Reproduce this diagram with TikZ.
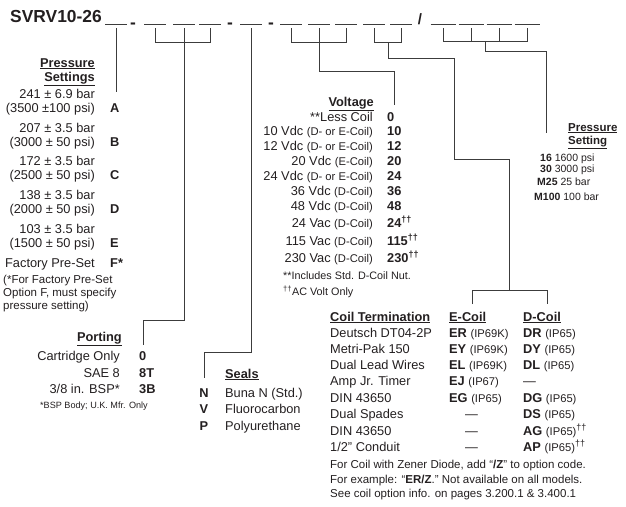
\documentclass[tikz,border=0pt]{standalone}
\usepackage{fontspec}
\setmainfont{Liberation Sans}
\usetikzlibrary{positioning}
\definecolor{InkBlack}{HTML}{231F20}
\definecolor{LeaderGrey}{HTML}{3C3C3C}
\newcommand{\titlesz}{\fontsize{17.4}{20}\selectfont}
\newcommand{\mainsz}{\fontsize{12.8}{15}\selectfont}
\newcommand{\subsz}{\fontsize{11.2}{13}\selectfont}
\newcommand{\notesz}{\fontsize{11.5}{13}\selectfont}
\newcommand{\tinysz}{\fontsize{9.1}{11}\selectfont}
\newcommand{\acmark}{\textsuperscript{††}}
\tikzset{
    % Separator between code groups
    sepmark/.style={
        inner sep=0pt,
        anchor=base,
        font=\titlesz\bfseries,
        text=InkBlack
    },
    % Description right of its code
    desclabel/.style={
        inner sep=0pt,
        anchor=base east,
        font=\mainsz,
        text=InkBlack
    },
    % Description left of its code
    optlabel/.style={
        inner sep=0pt,
        anchor=base west,
        font=\mainsz,
        text=InkBlack
    },
    % Option code
    codelabel/.style={
        inner sep=0pt,
        anchor=base west,
        font=\mainsz\bfseries,
        text=InkBlack
    },
    % Underlined group heading
    headlabel/.style={
        inner sep=0pt,
        font=\mainsz\bfseries,
        text=InkBlack
    },
    % Footnotes
    notelabel/.style={
        inner sep=0pt,
        anchor=base west,
        font=\notesz,
        text=InkBlack
    },
    % Blanks of the model code
    blankline/.style={
        draw=LeaderGrey,
        line width=0.9pt
    },
    % Leader lines
    leaderline/.style={
        draw=LeaderGrey,
        line width=0.9pt
    }
}

\begin{document}
\begin{tikzpicture}[x=1pt, y=-1pt]
    \useasboundingbox (0,0) rectangle (626,506);

    % Model code
    \node[inner sep=0pt, anchor=base west, font=\titlesz\bfseries, text=InkBlack] (model) at (10,23) {SVRV10-26};
    \node[sepmark] (sep1) at (133,28) {-};
    \node[sepmark] (sep2) at (230,28) {-};
    \node[sepmark] (sep3) at (271,28) {-};
    \node[sepmark, font=\fontsize{15}{18}\selectfont\bfseries] (slash) at (420,24) {/};
    \foreach \c [count=\i] in {116,155,184,210,251,291,319,346,374,401} {
        \coordinate (b\i) at (\c,24);
        \draw[blankline] ([xshift=-11pt]b\i) -- ([xshift=11pt]b\i);
    }
    \foreach \c [count=\i from 11] in {443,471,499,527} {
        \coordinate (b\i) at (\c,24);
        \draw[blankline] ([xshift=-12.5pt]b\i) -- ([xshift=12.5pt]b\i);
    }

    % Brackets and leaders
    \draw[leaderline] ([yshift=-4pt]b1) -- (116,92);
    \draw[leaderline] ([yshift=-4pt]b2) -- ([yshift=-18pt]b2) -- ([yshift=-18pt]b4) -- ([yshift=-4pt]b4);
    \draw[leaderline] ([yshift=-4pt]b3) -- (184,320) -- (143,320) -- (143,345);
    \draw[leaderline] ([yshift=-4pt]b5) -- (251,352) -- (204,352) -- (204,378);
    \draw[leaderline] ([yshift=-4pt]b6) -- ([yshift=-18pt]b6) -- ([yshift=-18pt]b8) -- ([yshift=-4pt]b8);
    \draw[leaderline] ([yshift=-4pt]b7) -- (319,71) -- (394,71) -- (394,105);
    \draw[leaderline] ([yshift=-4pt]b9) -- ([yshift=-18pt]b9) -- ([yshift=-18pt]b10) -- ([yshift=-4pt]b10);
    \draw[leaderline] (388,42) -- (388,58) -- (454,58) -- (454,159) -- (509,159) -- (509,290);
    \draw[leaderline] (472,304) -- (472,290) -- (547,290) -- (547,304);
    \draw[leaderline] ([yshift=-4pt]b11) -- ([yshift=-17pt]b11) -- ([yshift=-17pt]b14) -- ([yshift=-4pt]b14);
    \draw[leaderline] ([yshift=-4pt]b12) -- ([yshift=-17pt]b12);
    \draw[leaderline] ([yshift=-4pt]b13) -- ([yshift=-17pt]b13);
    \draw[leaderline] (485,41) -- (485,51) -- (546,51) -- (546,133);

    % Pressure settings
    \node[headlabel, anchor=base east] (pshead1) at (95,67) {\underline{Pressure}};
    \node[headlabel, anchor=base east] (pshead2) at (95,81) {\underline{Settings}};
    \foreach \bar/\psi/\code [count=\i] in {241 ± 6.9 bar/(3500 ±100 psi)/A, 207 ± 3.5 bar/(3000 ± 50 psi)/B, 172 ± 3.5 bar/(2500 ± 50 psi)/C, 138 ± 3.5 bar/(2000 ± 50 psi)/D, 103 ± 3.5 bar/(1500 ± 50 psi)/E} {
        \node[desclabel] (psbar\i) at (95,{65+33.6*\i}) {\bar};
        \node[desclabel] (pspsi\i) at (95,{79+33.6*\i}) {\psi};
        \node[codelabel] (pscode\i) at (110,{79+33.6*\i}) {\code};
    }
    \node[desclabel] (psbar6) at (95,267) {Factory Pre-Set};
    \node[codelabel] (pscode6) at (110,267) {F*};
    \node[notelabel] (psnote1) at (3,283) {(*For Factory Pre-Set};
    \node[notelabel] (psnote2) at (3,296) {Option F, must specify};
    \node[notelabel] (psnote3) at (3,309) {pressure setting)};

    % Porting
    \node[headlabel, anchor=base east] (porthead) at (122,341) {\underline{Porting}};
    \foreach \y/\desc/\code [count=\i] in {360/{Cartridge Only}/0, 377/{SAE 8}/8T, 393/{3/8 in. BSP*}/3B} {
        \node[desclabel] (portdesc\i) at (120,\y) {\desc};
        \node[codelabel] (portcode\i) at (139,\y) {\code};
    }
    \node[notelabel, font=\tinysz] (portnote) at (40,408) {*BSP Body; U.K. Mfr. Only};

    % Seals
    \node[headlabel, anchor=base west] (sealhead) at (225,378) {\underline{Seals}};
    \foreach \y/\code/\desc [count=\i] in {397/N/Buna N (Std.), 413/V/Fluorocarbon, 430/P/Polyurethane} {
        \node[codelabel, anchor=base] (sealcode\i) at (204,\y) {\code};
        \node[optlabel] (sealdesc\i) at (225,\y) {\desc};
    }

    % Voltage
    \node[headlabel, anchor=base east] (volthead) at (374,106) {\underline{Voltage}};
    \foreach \y/\desc/\code [count=\i] in {121/{**Less Coil}/0, 135/{10 Vdc {\subsz(D- or E-Coil)}}/10, 150/{12 Vdc {\subsz(D- or E-Coil)}}/12, 165/{20 Vdc {\subsz(E-Coil)}}/20, 180/{24 Vdc {\subsz(D- or E-Coil)}}/24, 195/{36 Vdc {\subsz(D-Coil)}}/36, 210/{48 Vdc {\subsz(D-Coil)}}/48, 227/{24 Vac {\subsz(D-Coil)}}/{24\acmark}, 245/{115 Vac {\subsz(D-Coil)}}/{115\acmark}, 262/{230 Vac {\subsz(D-Coil)}}/{230\acmark}} {
        \node[desclabel] (voltdesc\i) at (373,\y) {\desc};
        \node[codelabel] (voltcode\i) at (387,\y) {\code};
    }
    \node[notelabel, font=\fontsize{10.8}{13}\selectfont] (voltnote1) at (283,279) {**Includes Std. D-Coil Nut.};
    \node[notelabel, font=\fontsize{10.8}{13}\selectfont] (voltnote2) at (283,295) {\acmark AC Volt Only};

    % Pressure setting
    \node[headlabel, anchor=base west, font=\fontsize{11.5}{13}\selectfont\bfseries] (sethead1) at (568,131) {\underline{Pressure}};
    \node[headlabel, anchor=base west, font=\fontsize{11.5}{13}\selectfont\bfseries] (sethead2) at (568,144) {\underline{Setting}};
    \foreach \x/\y/\code/\desc [count=\i] in {540/161/16/1600 psi, 540/172/30/3000 psi, 537/185/M25/25 bar, 534/200/M100/100 bar} {
        \node[optlabel, font=\fontsize{10.5}{12}\selectfont] (setrow\i) at (\x,\y) {\textbf{\code}\ \desc};
    }

    % Coil termination
    \node[headlabel, anchor=base west] (coilhead) at (330,321) {\underline{Coil Termination}};
    \node[headlabel, anchor=base west] (ecoilhead) at (449,321) {\underline{E-Coil}};
    \node[headlabel, anchor=base west] (dcoilhead) at (523,321) {\underline{D-Coil}};
    \foreach \y/\term/\ecoil/\dcoil [count=\i] in {
        337/{Deutsch DT04-2P}/{\textbf{ER} {\subsz(IP69K)}}/{\textbf{DR} {\subsz(IP65)}},
        353/{Metri-Pak 150}/{\textbf{EY} {\subsz(IP69K)}}/{\textbf{DY} {\subsz(IP65)}},
        369/{Dual Lead Wires}/{\textbf{EL} {\subsz(IP69K)}}/{\textbf{DL} {\subsz(IP65)}},
        385/{Amp Jr. Timer}/{\textbf{EJ} {\subsz(IP67)}}/{—},
        402/{DIN 43650}/{\textbf{EG} {\subsz(IP65)}}/{\textbf{DG} {\subsz(IP65)}},
        418/{Dual Spades}/{\hspace*{16pt}—}/{\textbf{DS} {\subsz(IP65)}},
        435/{DIN 43650}/{\hspace*{16pt}—}/{\textbf{AG} {\subsz(IP65)}\acmark},
        451/{1/2" Conduit}/{\hspace*{16pt}—}/{\textbf{AP} {\subsz(IP65)}\acmark}} {
        \node[optlabel] (term\i) at (330,\y) {\term};
        \node[optlabel] (ecoil\i) at (449,\y) {\ecoil};
        \node[optlabel] (dcoil\i) at (523,\y) {\dcoil};
    }
    \node[notelabel] (coilnote1) at (330,468) {For Coil with Zener Diode, add ``\textbf{/Z}'' to option code.};
    \node[notelabel] (coilnote2) at (330,483) {For example: ``\textbf{ER/Z}.'' Not available on all models.};
    \node[notelabel] (coilnote3) at (330,497) {See coil option info. on pages 3.200.1 \& 3.400.1};
\end{tikzpicture}
\end{document}
